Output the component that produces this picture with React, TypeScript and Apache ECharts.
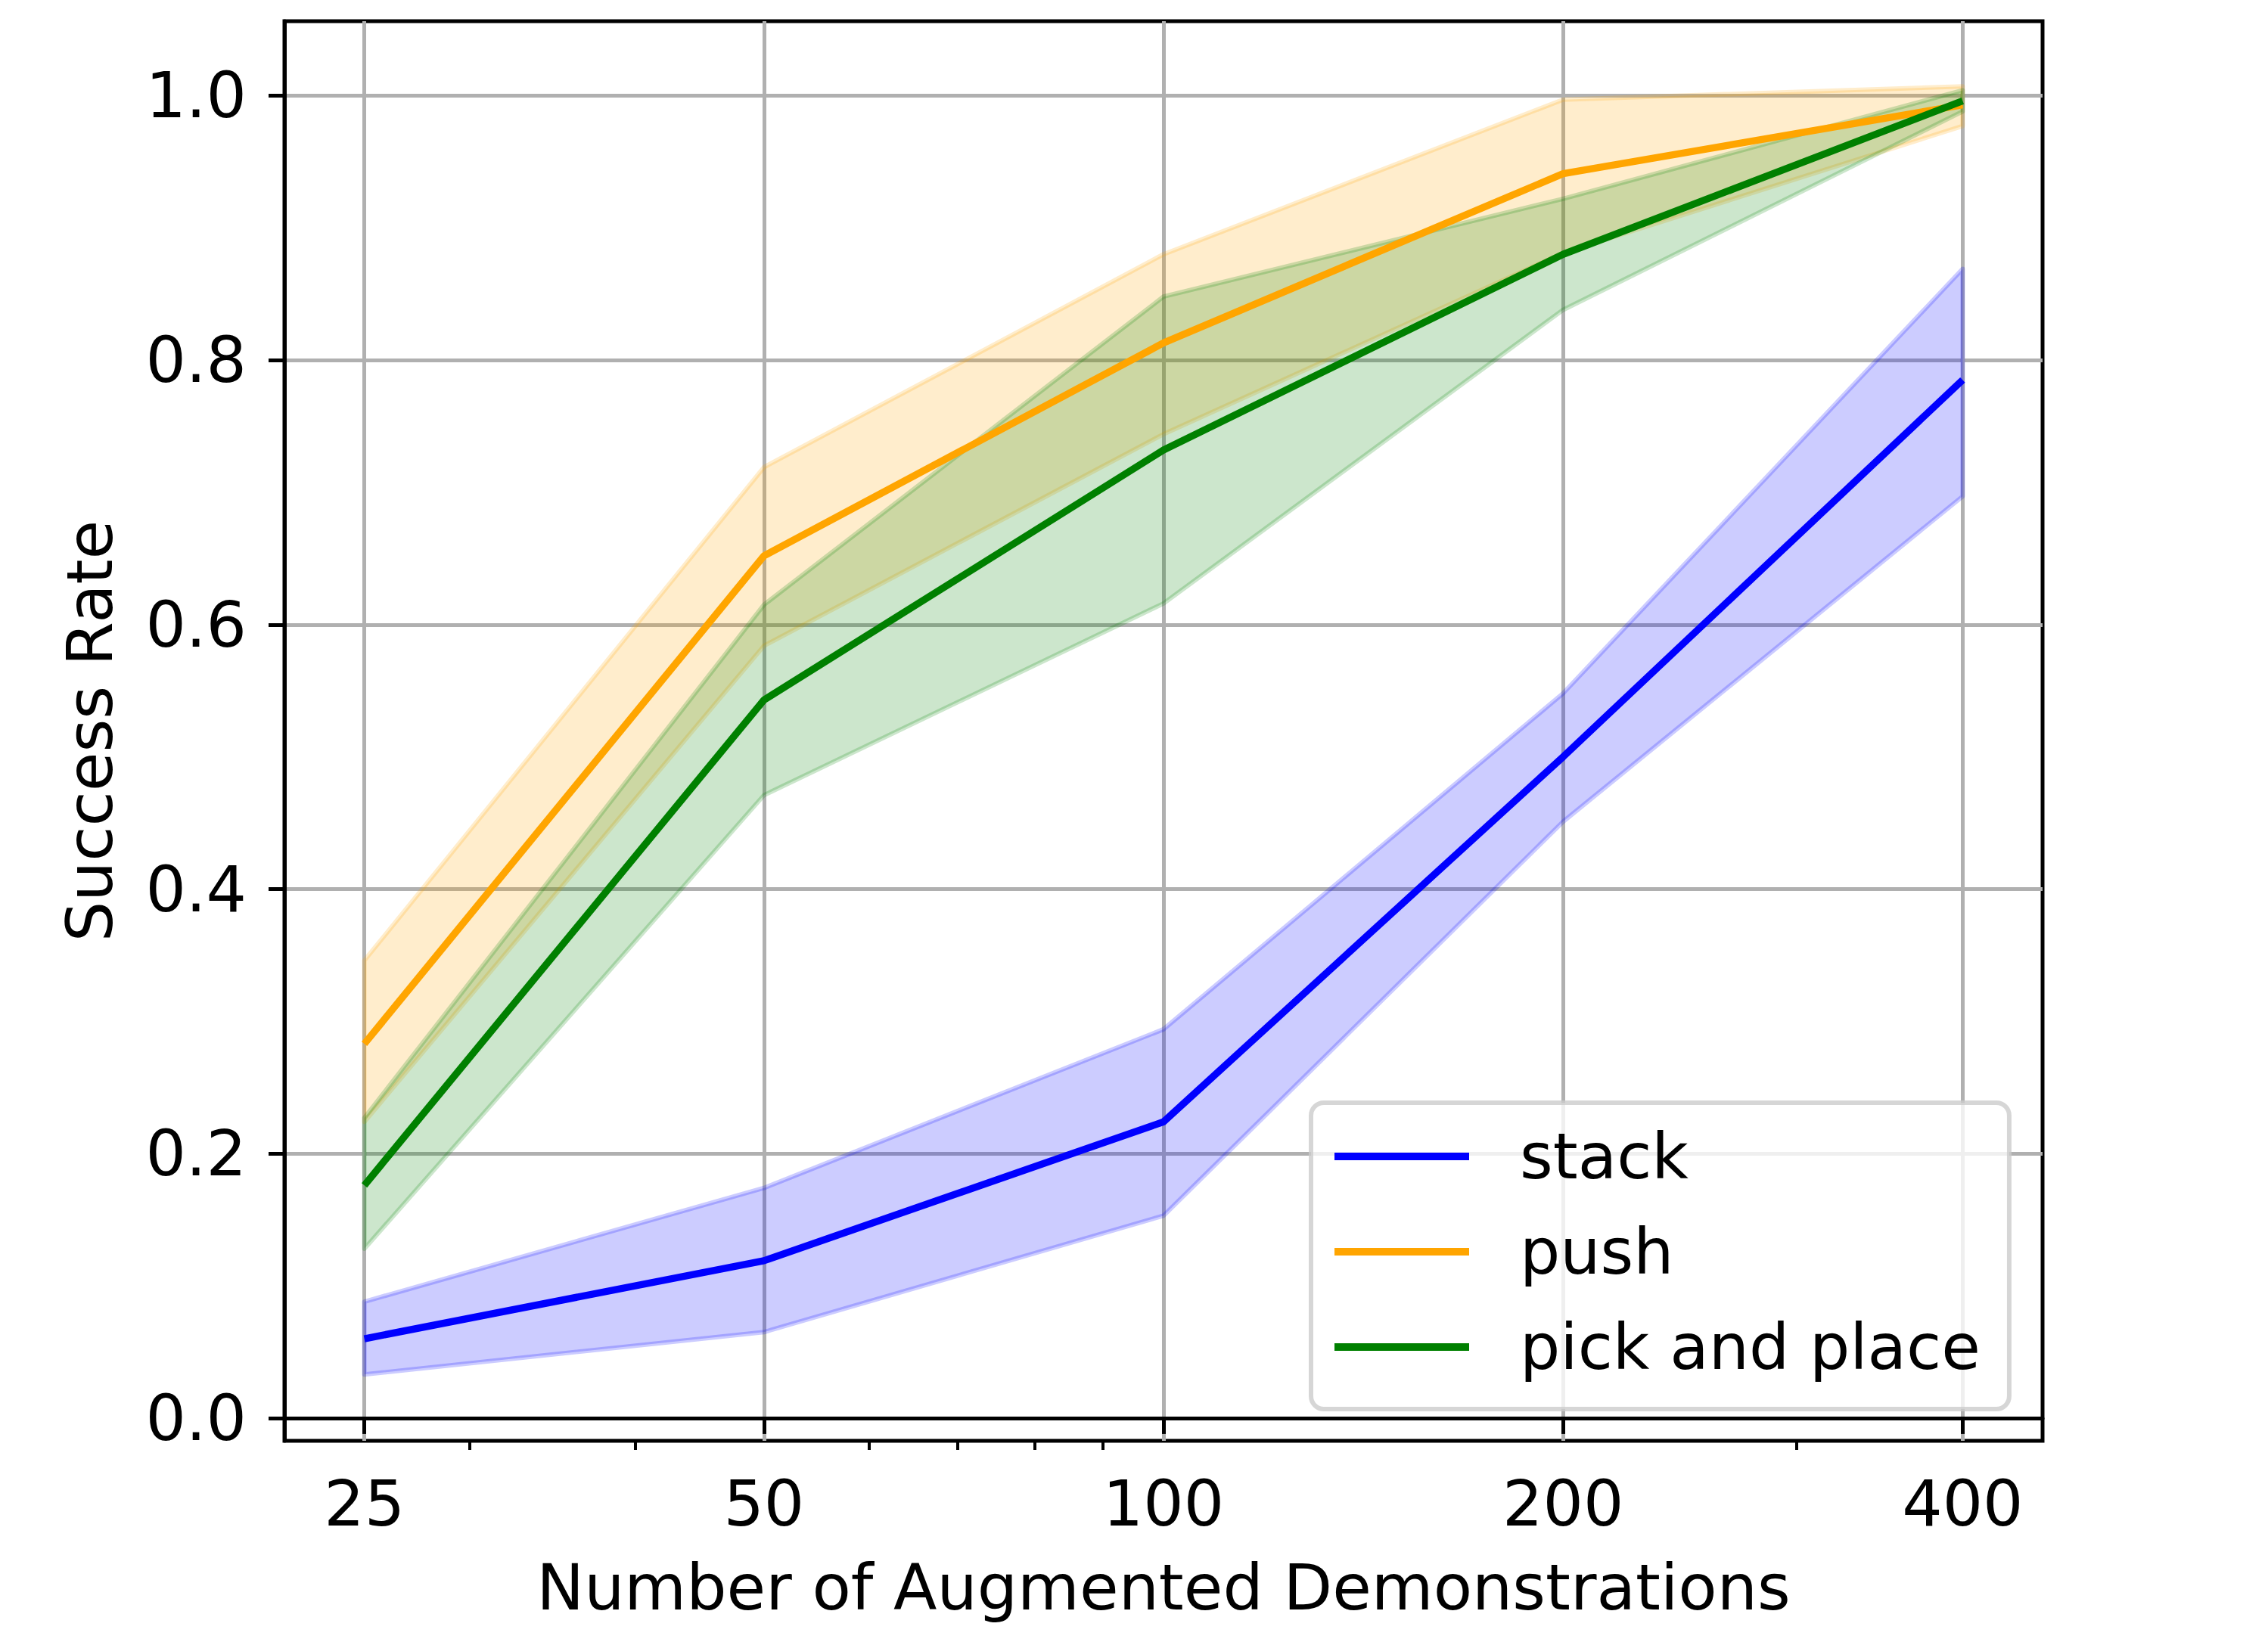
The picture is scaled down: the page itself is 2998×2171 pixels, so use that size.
import React, { useEffect, useRef } from "react";
import * as echarts from "echarts";

// ---- data ----
const xValues = [25, 50, 100, 200, 400];
const xTickValues = [25, 50, 100, 200, 400];
const xMinorTickValues = [30, 40, 60, 70, 80, 90, 300];
const yTickValues = [0, 0.2, 0.4, 0.6, 0.8, 1.0];

const stackMean = [0.06, 0.119, 0.224, 0.5, 0.785];
const stackLower = [0.033, 0.065, 0.153, 0.451, 0.697];
const stackUpper = [0.088, 0.174, 0.294, 0.548, 0.869];

const pushMean = [0.283, 0.652, 0.813, 0.941, 0.993];
const pushLower = [0.224, 0.584, 0.744, 0.881, 0.977];
const pushUpper = [0.346, 0.719, 0.88, 0.997, 1.007];

const pickMean = [0.176, 0.543, 0.732, 0.88, 0.996];
const pickLower = [0.128, 0.471, 0.616, 0.838, 0.988];
const pickUpper = [0.227, 0.615, 0.848, 0.922, 1.004];

const seriesNames = ["stack", "push", "pick and place"];

const FONT = "DejaVu Sans";
const X_MIN = 25 * Math.pow(2, -0.2);
const X_MAX = 400 * Math.pow(2, 0.2);

function meanSeries(name: string, values: number[], color: string) {
  return {
    type: "line",
    name,
    data: xValues.map((x, i) => [x, values[i]]),
    symbol: "none",
    showSymbol: false,
    color,
    itemStyle: { color },
    lineStyle: { color, width: 9.4 },
    emphasis: { disabled: true },
    silent: true,
  };
}

// Shaded band (like fill_between): one polygon through lower points and back along upper points
function bandSeries(key: string, lower: number[], upper: number[], rgba: string) {
  return {
    type: "custom",
    name: key + "_band",
    data: xValues.map((x, i) => [x, lower[i], upper[i]]),
    encode: { x: 0, y: [1, 2] },
    clip: true,
    silent: true,
    renderItem: (params: any, api: any) => {
      if (params.dataIndex !== 0) return { type: "group", children: [] };
      const n = params.dataInsideLength ?? xValues.length;
      const lowerPts: number[][] = [];
      const upperPts: number[][] = [];
      for (let i = 0; i < n; i++) {
        const x = api.value(0, i);
        lowerPts.push(api.coord([x, api.value(1, i)]));
        upperPts.push(api.coord([x, api.value(2, i)]));
      }
      const points = lowerPts.concat(upperPts.reverse());
      return {
        type: "polygon",
        shape: { points },
        style: { fill: rgba, stroke: rgba, lineWidth: 6, lineJoin: "round" },
      };
    },
  };
}

export default function App() {
  const ref = useRef<HTMLDivElement>(null);

  useEffect(() => {
    if (!ref.current) return;
    const chart = echarts.init(ref.current, null, { renderer: "svg" });
    const option: any = {
      animation: false,
      backgroundColor: "#ffffff",
      textStyle: { fontFamily: FONT },
      grid: {
        left: 376,
        right: 298,
        top: 28,
        bottom: 266,
        show: true,
        borderColor: "#000000",
        borderWidth: 5,
        backgroundColor: "transparent",
        containLabel: false,
      },
      legend: {
        data: seriesNames,
        orient: "vertical",
        left: 1733,
        top: 1458,
        icon: "rect",
        itemWidth: 178,
        itemHeight: 10,
        itemGap: 26,
        padding: [21, 38, 32, 31],
        backgroundColor: "rgba(255,255,255,0.8)",
        borderColor: "rgba(204,204,204,0.8)",
        borderWidth: 6,
        borderRadius: 17,
        selectedMode: false,
        textStyle: {
          fontFamily: FONT,
          fontSize: 84,
          color: "#000000",
          lineHeight: 100,
          padding: [0, 0, 0, 62],
        },
      },
      xAxis: [
        {
          type: "log",
          logBase: 2,
          min: X_MIN,
          max: X_MAX,
          position: "bottom",
          name: "Number of Augmented Demonstrations",
          nameLocation: "middle",
          nameGap: 152,
          nameTextStyle: { fontFamily: FONT, fontSize: 84, color: "#000000" },
          axisLine: { show: true, lineStyle: { color: "#000000", width: 5 } },
          axisTick: {
            show: true,
            inside: false,
            length: 21,
            lineStyle: { color: "#000000", width: 5 },
            customValues: xTickValues,
          },
          axisLabel: {
            show: true,
            margin: 41,
            fontFamily: FONT,
            fontSize: 84,
            color: "#000000",
            customValues: xTickValues,
            formatter: (v: number) => String(Math.round(v)),
          },
          splitLine: { show: true, lineStyle: { color: "#b0b0b0", width: 5 } },
          minorTick: { show: false },
        },
        {
          type: "log",
          logBase: 2,
          min: X_MIN,
          max: X_MAX,
          position: "bottom",
          gridIndex: 0,
          axisLine: { show: false },
          axisTick: {
            show: true,
            inside: false,
            length: 12,
            lineStyle: { color: "#000000", width: 4 },
            customValues: xMinorTickValues,
          },
          axisLabel: { show: false },
          splitLine: { show: false },
        },
      ],
      yAxis: {
        type: "value",
        min: -0.0172,
        max: 1.0563,
        name: "Success Rate",
        nameLocation: "middle",
        nameGap: 215,
        nameTextStyle: { fontFamily: FONT, fontSize: 84, color: "#000000" },
        axisLine: { show: true, lineStyle: { color: "#000000", width: 5 } },
        axisTick: {
          show: true,
          inside: false,
          length: 21,
          lineStyle: { color: "#000000", width: 5 },
          customValues: yTickValues,
        },
        axisLabel: {
          show: true,
          margin: 50,
          fontFamily: FONT,
          fontSize: 84,
          color: "#000000",
          customValues: yTickValues,
          formatter: (v: number) => v.toFixed(1),
        },
        splitLine: { show: true, lineStyle: { color: "#b0b0b0", width: 5 } },
      },
      series: [
        meanSeries("stack", stackMean, "#0000ff"),
        bandSeries("stack", stackLower, stackUpper, "rgba(0,0,255,0.2)"),
        meanSeries("push", pushMean, "#ffa500"),
        bandSeries("push", pushLower, pushUpper, "rgba(255,165,0,0.2)"),
        meanSeries("pick and place", pickMean, "#008000"),
        bandSeries("pick", pickLower, pickUpper, "rgba(0,128,0,0.2)"),
      ],
    };
    chart.setOption(option);
    return () => {
      chart.dispose();
    };
  }, []);

  return (
    <div
      ref={ref}
      style={{
        position: "fixed",
        left: 0,
        top: 0,
        width: 2998,
        height: 2171,
        background: "#ffffff",
      }}
    />
  );
}
